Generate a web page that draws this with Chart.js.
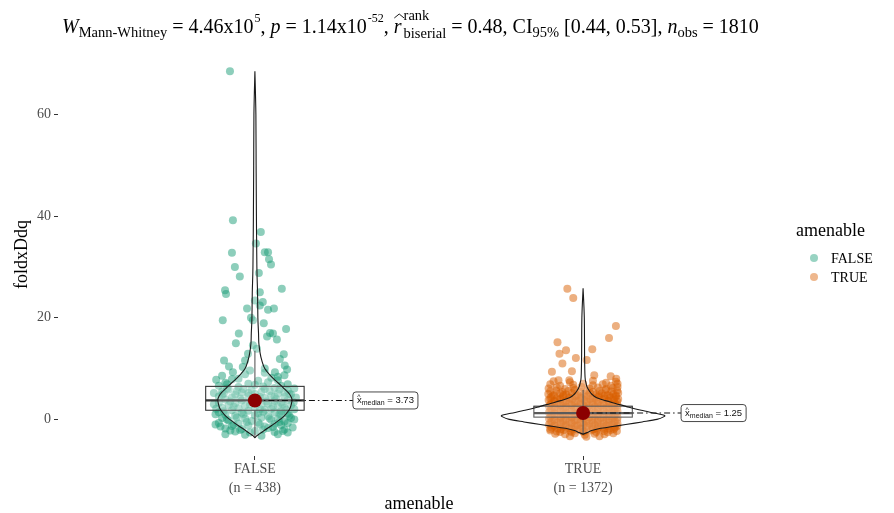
<!DOCTYPE html>
<html>
<head>
<meta charset="utf-8">
<script src="https://cdn.jsdelivr.net/npm/chart.js@4.4.0/dist/chart.umd.min.js"></script>
<style>
  html, body { margin: 0; padding: 0; background: #fff; }
  #wrap { width: 894px; height: 513px; }
</style>
</head>
<body>
<div id="wrap"><canvas id="chart" width="894" height="513"></canvas></div>
<script>
// groups on the x axis
const groups = ["FALSE", "TRUE"];
const groupN = [438, 1372];
const yTicks = [0, 20, 40, 60];

// box statistics
const medians = [3.73, 1.25];
const quartiles = [[1.8, 6.5], [0.45, 2.6]];
const whiskers = [[-3.5, 13.5], [-2.9, 5.8]];

// violin outline: [value, half width in group units]
const violinFalse = [[-3.6,0],[-3.2,0.006],[-2.8,0.015],[-2.3,0.026],[-1.8,0.037],[-1.2,0.051],[-0.6,0.064],[0.1,0.079],[0.8,0.091],[1.5,0.100],[2.2,0.107],[3.0,0.111],[3.9,0.113],[4.6,0.109],[5.3,0.101],[6.0,0.090],[6.7,0.079],[7.7,0.062],[8.7,0.046],[10,0.030],[11.6,0.021],[13,0.016],[15,0.012],[17,0.011],[20,0.009],[25,0.008],[30,0.006],[40,0.0046],[50,0.0037],[60,0.003],[68.5,0]];
const violinTrue = [[-2.9,0],[-2.6,0.012],[-2.2,0.026],[-1.8,0.05],[-1.4,0.09],[-1.0,0.13],[-0.5,0.18],[0.0,0.225],[0.5,0.245],[0.8,0.247],[1.2,0.22],[1.8,0.177],[2.4,0.14],[3.1,0.101],[3.7,0.068],[4.3,0.040],[5.0,0.026],[5.7,0.018],[6.4,0.012],[7.1,0.009],[8.3,0.006],[12,0.0046],[20,0.0037],[25.8,0]];

// jittered observations: [x offset from group centre, foldxDdq]
const falseJitter = [
  [-0.076,68.5],[-0.067,39.2],[0.018,36.9],[0.003,34.6],
  [-0.070,32.8],[0.030,32.9],[0.040,32.9],[0.043,31.5],[0.049,30.5],[-0.061,30.0],[0.012,28.8],[-0.046,28.1],
  [-0.091,25.4],[-0.088,24.7],[0.082,25.7],[0.015,25.0],[0.000,23.4],[0.024,23.1],[0.015,22.4],[-0.024,21.8],[0.040,21.6],[0.058,21.8],
  [-0.098,19.5],[-0.012,20.0],[-0.006,19.5],[0.027,18.9],[0.095,17.8],[-0.049,16.9],[0.046,17.0],[0.055,16.9],[0.037,16.3],[0.067,15.7],
  [-0.058,15.0],[-0.006,14.6],[0.006,13.9],[-0.021,12.9],[0.088,12.8],[-0.094,11.6],[0.076,11.9],[-0.079,10.4],[0.091,10.6],
  [-0.037,10.3],[-0.030,11.6],[0.098,9.8],[-0.067,9.3],[0.030,10.0],[0.061,9.3],
  [-0.10,8.6],[-0.03,8.9],[0.05,8.2],[0.09,8.7],[-0.07,7.9],[0.01,7.6],[0.07,7.7],[-0.09,7.2],[-0.02,7.0],[0.04,7.3],[0.10,6.9],
  [-0.11,6.6],[-0.05,6.4],[0.00,6.8],[0.06,6.2],[0.08,6.6],[-0.08,5.9],[-0.01,5.8],[0.03,6.0],[0.10,5.7],[-0.10,5.5],
  [-0.04,5.3],[0.02,5.4],[0.07,5.1],[-0.06,4.9],[0.00,5.0],[0.05,4.7],[0.11,4.9],[-0.11,4.5],[-0.07,4.3],[-0.02,4.6],[0.03,4.2],[0.09,4.4],
  [-0.09,3.9],[-0.04,3.7],[0.01,4.0],[0.06,3.6],[0.10,3.8],[-0.11,3.3],[-0.06,3.2],[-0.01,3.4],[0.04,3.1],[0.08,3.3],
  [-0.08,2.8],[-0.03,2.7],[0.02,2.9],[0.07,2.6],[0.11,2.8],[-0.10,2.3],[-0.05,2.2],[0.00,2.4],[0.05,2.1],[0.09,2.3],
  [-0.07,1.8],[-0.02,1.7],[0.03,1.9],[0.08,1.6],[-0.11,1.4],[-0.04,1.3],[0.01,1.2],[0.06,1.4],[0.10,1.1],
  [-0.09,0.9],[-0.06,0.7],[0.00,0.8],[0.04,0.6],[0.08,0.9],[-0.10,0.3],[-0.03,0.2],[0.02,0.4],[0.07,0.1],[0.11,0.3],
  [-0.08,-0.2],[-0.01,-0.3],[0.05,-0.1],[0.09,-0.4],[-0.11,-0.7],[-0.05,-0.8],[0.01,-0.6],[0.06,-0.9],[0.10,-0.7],
  [-0.07,-1.3],[-0.02,-1.2],[0.03,-1.4],[0.08,-1.1],[-0.09,-1.8],[-0.04,-1.9],[0.04,-1.7],[0.09,-2.0],
  [-0.06,-2.4],[0.00,-2.3],[0.06,-2.5],[-0.03,-3.0],[0.02,-3.2],[-0.09,-2.9],[0.10,-2.6],
  [-0.085,6.1],[-0.035,6.0],[0.025,6.5],[0.075,5.9],[-0.095,5.1],[-0.045,4.1],[0.015,4.4],[0.065,4.0],[-0.075,3.5],[-0.015,2.9],
  [0.035,3.5],[0.085,3.0],[-0.065,2.5],[0.015,2.0],[0.055,2.6],[0.095,1.9],[-0.095,1.6],[-0.035,1.0],[0.025,1.5],[0.075,1.0],
  [-0.055,0.4],[0.045,0.2],[0.105,0.7],[-0.085,0.0],[-0.025,-0.5],[0.075,-0.5],[-0.065,-1.0],[0.015,-1.0],[0.055,-1.5],[-0.105,-1.4],
  [-0.045,-2.1],[0.025,-2.0],[0.085,-2.3],[-0.015,-2.6],[-0.055,5.6],[0.045,5.6],[-0.02,5.2],[0.09,5.3],[-0.1,4.8],[0.06,4.5],
  [-0.125,3.0],[-0.12,1.0],[-0.125,5.2],[0.12,2.0],[0.125,4.3],[0.12,0.0],[-0.12,-1.0],[0.12,6.1],[-0.118,7.8],[0.115,-1.6],
  [-0.05,8.0],[0.03,9.2],[-0.015,9.6],[0.07,8.4],[-0.085,6.9],[0.105,5.0],[-0.118,2.1],[0.118,3.4],[-0.075,-2.2],[0.07,-2.9]
];

const trueJitter = [
  [-0.048,25.7],[-0.030,23.9],[0.100,18.4],[0.079,16.0],[-0.078,15.2],[-0.052,13.6],[-0.072,12.9],[0.028,13.8],[-0.022,12.1],
  [0.011,11.7],[-0.063,11.0],[-0.095,9.4],[-0.034,9.5],[0.034,8.7],[0.084,8.5],[0.101,8.0],[-0.042,7.7],[-0.075,7.7],
  [-0.09,7.5],[-0.04,7.3],[0.03,7.6],[0.07,7.2],[0.10,7.4],
  [-0.1,6.9],[-0.07,6.6],[-0.03,6.8],[0.0,7.0],[0.03,6.7],[0.06,6.9],[0.085,6.6],[0.105,7.0],
  [-0.105,6.1],[-0.08,6.3],[-0.055,6.0],[-0.03,6.2],[-0.005,6.4],[0.02,6.1],[0.045,6.3],[0.07,6.0],[0.09,6.2],[0.105,6.4],
  [-0.1,5.5],[-0.082,5.7],[-0.063,5.4],[-0.045,5.6],[-0.025,5.8],[-0.008,5.5],[0.012,5.7],[0.03,5.4],[0.05,5.6],[0.068,5.8],[0.086,5.5],[0.104,5.7],
  [-0.106,5.0],[-0.088,4.8],[-0.07,5.1],[-0.052,4.9],[-0.034,5.2],[-0.016,4.8],[0.003,5.0],[0.021,5.2],[0.039,4.9],[0.057,5.1],[0.075,4.8],[0.092,5.0],[0.107,5.2],
  [-0.097,4.4],[-0.079,4.2],[-0.061,4.5],[-0.043,4.3],[-0.025,4.6],[-0.007,4.3],[0.011,4.5],[0.029,4.2],[0.047,4.4],[0.065,4.6],[0.083,4.3],[0.1,4.5],
  [-0.105,3.8],[-0.087,3.6],[-0.069,3.9],[-0.051,3.7],[-0.033,4.0],[-0.015,3.6],[0.004,3.8],[0.022,4.0],[0.04,3.7],[0.058,3.9],[0.076,3.6],[0.093,3.8],[0.107,4.0],
  [-0.096,3.2],[-0.078,3.0],[-0.060,3.3],[-0.043,3.1],[-0.026,3.4],[-0.008,3.0],[0.010,3.2],[0.028,3.4],[0.045,3.1],[0.062,3.3],[0.080,3.0],[0.097,3.2],
  [-0.104,2.6],[-0.087,2.4],[-0.068,2.7],[-0.052,2.5],[-0.035,2.8],[-0.017,2.4],[0.002,2.6],[0.019,2.8],[0.036,2.5],[0.054,2.7],[0.071,2.4],[0.088,2.6],[0.105,2.8],
  [-0.096,2.0],[-0.078,1.8],[-0.060,2.1],[-0.043,1.9],[-0.026,2.2],[-0.008,1.8],[0.010,2.0],[0.028,2.2],[0.045,1.9],[0.062,2.1],[0.080,1.8],[0.097,2.0],
  [-0.104,1.4],[-0.087,1.2],[-0.068,1.5],[-0.052,1.3],[-0.035,1.6],[-0.017,1.2],[0.002,1.4],[0.019,1.6],[0.036,1.3],[0.054,1.5],[0.071,1.2],[0.088,1.4],[0.105,1.6],
  [-0.096,0.8],[-0.078,0.6],[-0.060,0.9],[-0.043,0.7],[-0.026,1.0],[-0.008,0.6],[0.010,0.8],[0.028,1.0],[0.045,0.7],[0.062,0.9],[0.080,0.6],[0.097,0.8],
  [-0.104,0.2],[-0.087,0.0],[-0.068,0.3],[-0.052,0.1],[-0.035,0.4],[-0.017,0.0],[0.002,0.2],[0.019,0.4],[0.036,0.1],[0.054,0.3],[0.071,0.0],[0.088,0.2],[0.105,0.4],
  [-0.096,-0.4],[-0.078,-0.6],[-0.060,-0.3],[-0.043,-0.5],[-0.026,-0.2],[-0.008,-0.6],[0.010,-0.4],[0.028,-0.2],[0.045,-0.5],[0.062,-0.3],[0.080,-0.6],[0.097,-0.4],
  [-0.104,-1.0],[-0.087,-1.2],[-0.068,-0.9],[-0.052,-1.1],[-0.035,-0.8],[-0.017,-1.2],[0.002,-1.0],[0.019,-0.8],[0.036,-1.1],[0.054,-0.9],[0.071,-1.2],[0.088,-1.0],[0.105,-0.8],
  [-0.096,-1.6],[-0.078,-1.8],[-0.060,-1.5],[-0.043,-1.7],[-0.026,-1.4],[-0.008,-1.8],[0.010,-1.6],[0.028,-1.4],[0.045,-1.7],[0.062,-1.5],[0.080,-1.8],[0.097,-1.6],
  [-0.100,-2.2],[-0.080,-2.4],[-0.058,-2.1],[-0.038,-2.3],[-0.018,-2.0],[0.003,-2.4],[0.024,-2.2],[0.044,-2.0],[0.064,-2.3],[0.084,-2.1],[0.103,-2.3],
  [-0.085,-2.8],[-0.055,-2.9],[-0.025,-2.7],[0.005,-3.0],[0.035,-2.8],[0.065,-2.9],[0.092,-2.7],
  [-0.04,-3.3],[0.01,-3.4],[0.05,-3.3],
  [-0.092,4.7],[-0.06,4.75],[-0.02,4.65],[0.015,4.7],[0.05,4.75],[0.08,4.65],[0.1,4.7],
  [-0.1,4.1],[-0.07,4.05],[-0.04,4.15],[-0.005,4.1],[0.035,4.05],[0.065,4.15],[0.095,4.1],
  [-0.088,3.5],[-0.055,3.45],[-0.022,3.55],[0.012,3.5],[0.045,3.45],[0.078,3.55],[0.104,3.5],
  [-0.1,2.9],[-0.068,2.95],[-0.035,2.85],[-0.002,2.9],[0.03,2.95],[0.063,2.85],[0.094,2.9],
  [-0.088,2.3],[-0.055,2.25],[-0.022,2.35],[0.012,2.3],[0.045,2.25],[0.078,2.35],[0.104,2.3],
  [-0.1,1.7],[-0.068,1.75],[-0.035,1.65],[-0.002,1.7],[0.03,1.75],[0.063,1.65],[0.094,1.7],
  [-0.088,1.1],[-0.055,1.05],[-0.022,1.15],[0.012,1.1],[0.045,1.05],[0.078,1.15],[0.104,1.1],
  [-0.1,0.5],[-0.068,0.55],[-0.035,0.45],[-0.002,0.5],[0.03,0.55],[0.063,0.45],[0.094,0.5],
  [-0.088,-0.1],[-0.055,-0.15],[-0.022,-0.05],[0.012,-0.1],[0.045,-0.15],[0.078,-0.05],[0.104,-0.1],
  [-0.1,-0.7],[-0.068,-0.65],[-0.035,-0.75],[-0.002,-0.7],[0.03,-0.65],[0.063,-0.75],[0.094,-0.7],
  [-0.088,-1.3],[-0.055,-1.35],[-0.022,-1.25],[0.012,-1.3],[0.045,-1.35],[0.078,-1.25],[0.104,-1.3],
  [-0.1,-1.9],[-0.068,-1.95],[-0.035,-1.85],[-0.002,-1.9],[0.03,-1.95],[0.063,-1.85],[0.094,-1.9],
  [-0.07,-2.5],[-0.035,-2.55],[0.0,-2.45],[0.04,-2.5],[0.075,-2.55]
];

const pointColors = ["rgba(27,158,119,0.5)", "rgba(217,95,2,0.5)"];
const legendColors = ["rgba(27,158,119,0.45)", "rgba(217,95,2,0.45)"];
const serif = "'Liberation Serif', 'DejaVu Serif', serif";
const sans = "'Liberation Sans', Arial, sans-serif";
const BOX_HALF = 0.15;
const LABEL_GAP = 98;

// catmull-rom through every point so the thin tips keep their full length
function splineTo(ctx, pts) {
    for (let i = 0; i < pts.length - 1; i++) {
        const p0 = pts[i - 1] || pts[i], p1 = pts[i], p2 = pts[i + 1], p3 = pts[i + 2] || p2;
        ctx.bezierCurveTo(
            p1[0] + (p2[0] - p0[0]) / 6, p1[1] + (p2[1] - p0[1]) / 6,
            p2[0] - (p3[0] - p1[0]) / 6, p2[1] - (p3[1] - p1[1]) / 6,
            p2[0], p2[1]);
    }
}

function drawViolin(ctx, xs, ys, centre, profile) {
    const left = profile.map(([v, w]) => [xs.getPixelForValue(centre - w), ys.getPixelForValue(v)]);
    const right = profile.map(([v, w]) => [xs.getPixelForValue(centre + w), ys.getPixelForValue(v)]).reverse();
    ctx.beginPath();
    ctx.moveTo(left[0][0], left[0][1]);
    splineTo(ctx, left);
    splineTo(ctx, right);
    ctx.closePath();
    ctx.fillStyle = "rgba(255,255,255,0.2)";
    ctx.fill();
    ctx.strokeStyle = "#1a1a1a";
    ctx.lineWidth = 1.1;
    ctx.stroke();
}

function drawBox(ctx, xs, ys, i) {
    const c = i + 1;
    const x0 = xs.getPixelForValue(c - BOX_HALF), x1 = xs.getPixelForValue(c + BOX_HALF);
    const xc = xs.getPixelForValue(c);
    const q1 = ys.getPixelForValue(quartiles[i][0]), q3 = ys.getPixelForValue(quartiles[i][1]);
    const lo = ys.getPixelForValue(whiskers[i][0]), hi = ys.getPixelForValue(whiskers[i][1]);
    const med = ys.getPixelForValue(medians[i]);
    ctx.fillStyle = "rgba(255,255,255,0.2)";
    ctx.fillRect(x0, q3, x1 - x0, q1 - q3);
    ctx.strokeStyle = "#333";
    ctx.lineWidth = 1.1;
    ctx.strokeRect(x0, q3, x1 - x0, q1 - q3);
    ctx.beginPath();
    ctx.moveTo(xc, q3); ctx.lineTo(xc, hi);
    ctx.moveTo(xc, q1); ctx.lineTo(xc, lo);
    ctx.stroke();
    ctx.lineWidth = 2.2;
    ctx.beginPath();
    ctx.moveTo(x0, med); ctx.lineTo(x1, med);
    ctx.stroke();
}

function drawMedianLabel(ctx, xs, ys, i) {
    const xc = xs.getPixelForValue(i + 1);
    const yc = ys.getPixelForValue(medians[i]);
    const lx = xc + LABEL_GAP;
    ctx.save();
    ctx.setLineDash([6, 3, 1.5, 3]);
    ctx.strokeStyle = "#111";
    ctx.lineWidth = 1.1;
    ctx.beginPath();
    ctx.moveTo(xc, yc); ctx.lineTo(lx, yc);
    ctx.stroke();
    ctx.restore();

    ctx.fillStyle = "#8B0000";
    ctx.beginPath();
    ctx.arc(xc, yc, 7, 0, Math.PI * 2);
    ctx.fill();

    const val = "= " + medians[i].toFixed(2);
    ctx.font = "9.5px " + sans;
    const xw = ctx.measureText("x").width;
    const vw = ctx.measureText(" " + val).width;
    ctx.font = "7px " + sans;
    const sw = ctx.measureText("median").width;
    const w = 4 + xw + sw + vw + 4;
    const h = 17;
    ctx.fillStyle = "#fff";
    ctx.strokeStyle = "#333";
    ctx.lineWidth = 0.9;
    ctx.beginPath();
    ctx.roundRect(lx, yc - h / 2, w, h, 3);
    ctx.fill();
    ctx.stroke();
    ctx.fillStyle = "#111";
    ctx.textBaseline = "alphabetic";
    ctx.textAlign = "left";
    let x = lx + 4;
    ctx.font = "9.5px " + sans;
    ctx.fillText("x", x, yc + 3);
    ctx.font = "7px " + sans;
    ctx.fillText("^", x + 0.3, yc - 1);
    x += xw;
    ctx.fillText("median", x, yc + 5);
    x += sw;
    ctx.font = "9.5px " + sans;
    ctx.fillText(" " + val, x, yc + 3);
}

// subtitle pieces: [text, kind]
const titleParts = [
    ["W", "it"], ["Mann-Whitney", "sub"], [" = 4.46x10", "n"], ["5", "sup"], [", ", "n"],
    ["p", "it"], [" = 1.14x10", "n"], ["-52", "sup"], [", ", "n"],
    ["r", "hat"], [["rank", "biserial"], "supsub"], [" = 0.48, CI", "n"], ["95%", "sub"],
    [" [0.44, 0.53], ", "n"], ["n", "it"], ["obs", "sub"], [" = 1810", "n"]
];

function drawTitle(ctx) {
    const base = 33;
    let x = 62;
    ctx.fillStyle = "#000";
    ctx.textAlign = "left";
    ctx.textBaseline = "alphabetic";
    for (const [t, kind] of titleParts) {
        if (kind === "n" || kind === "it" || kind === "hat") {
            ctx.font = (kind === "n" ? "" : "italic ") + "20px " + serif;
            ctx.fillText(t, x, base);
            const w = ctx.measureText(t).width;
            if (kind === "hat") {
                ctx.strokeStyle = "#000";
                ctx.lineWidth = 0.9;
                ctx.beginPath();
                ctx.moveTo(x + 0.5, base - 15);
                ctx.lineTo(x + w / 2 + 1.5, base - 19);
                ctx.lineTo(x + w + 2.5, base - 15);
                ctx.stroke();
            }
            x += w;
        } else if (kind === "sub") {
            ctx.font = "14.5px " + serif;
            ctx.fillText(t, x, base + 4);
            x += ctx.measureText(t).width;
        } else if (kind === "sup") {
            ctx.font = "12px " + serif;
            ctx.fillText(t, x + 1, base - 11);
            x += ctx.measureText(t).width + 1;
        } else if (kind === "supsub") {
            ctx.font = "14.5px " + serif;
            ctx.fillText(t[0], x + 2, base - 13);
            ctx.fillText(t[1], x + 2, base + 5);
            x += Math.max(ctx.measureText(t[0]).width, ctx.measureText(t[1]).width) + 2;
        }
    }
}

function drawLegend(ctx) {
    ctx.fillStyle = "#000";
    ctx.textAlign = "left";
    ctx.textBaseline = "middle";
    ctx.font = "18px " + serif;
    ctx.fillText("amenable", 796, 231);
    ctx.font = "14px " + serif;
    groups.forEach((g, i) => {
        const y = 258 + i * 19;
        ctx.fillStyle = legendColors[i];
        ctx.beginPath();
        ctx.arc(814, y, 4, 0, Math.PI * 2);
        ctx.fill();
        ctx.fillStyle = "#000";
        ctx.fillText(g, 831, y + 1);
    });
}

const betweenPlugin = {
    id: "betweenstats",
    afterDatasetsDraw(chart) {
        const ctx = chart.ctx;
        const xs = chart.scales.x, ys = chart.scales.y;
        ctx.save();
        drawBox(ctx, xs, ys, 0);
        drawViolin(ctx, xs, ys, 1, violinFalse);
        drawBox(ctx, xs, ys, 1);
        drawViolin(ctx, xs, ys, 2, violinTrue);
        drawMedianLabel(ctx, xs, ys, 0);
        drawMedianLabel(ctx, xs, ys, 1);
        ctx.restore();
    },
    afterDraw(chart) {
        const ctx = chart.ctx;
        ctx.save();
        drawTitle(ctx);
        drawLegend(ctx);
        ctx.restore();
    }
};

const ctx = document.getElementById("chart").getContext("2d");
new Chart(ctx, {
    type: "scatter",
    data: {
        datasets: [
            { label: "FALSE", data: falseJitter.map(([dx, y]) => ({ x: 1 + dx, y })), backgroundColor: pointColors[0], borderWidth: 0, pointRadius: 4 },
            { label: "TRUE", data: trueJitter.map(([dx, y]) => ({ x: 2 + dx, y })), backgroundColor: pointColors[1], borderWidth: 0, pointRadius: 4 }
        ]
    },
    options: {
        responsive: false,
        animation: false,
        layout: { padding: { top: 53, right: 114, bottom: 0, left: 0 } },
        plugins: { legend: { display: false }, tooltip: { enabled: false } },
        scales: {
            x: {
                type: "linear", min: 0.4, max: 2.6,
                afterBuildTicks: s => { s.ticks = [1, 2].map(v => ({ value: v })); },
                afterFit: s => { s.height = 57; },
                grid: { display: true, drawOnChartArea: false, drawTicks: true, tickLength: 4, color: "#333" },
                border: { display: false },
                ticks: {
                    callback: v => [groups[v - 1], "(n = " + groupN[v - 1] + ")"],
                    color: "#4D4D4D", font: { family: serif, size: 14, lineHeight: 1.36 }, padding: 0, maxRotation: 0
                },
                title: { display: true, text: "amenable", color: "#000", font: { family: serif, size: 18, lineHeight: 1 }, padding: { top: 0, bottom: 0 } }
            },
            y: {
                min: -7.2, max: 72.1,
                afterBuildTicks: s => { s.ticks = yTicks.map(v => ({ value: v })); },
                afterFit: s => { s.width = 58; },
                grid: { display: true, drawOnChartArea: false, drawTicks: true, tickLength: 4, color: "#333" },
                border: { display: false },
                ticks: { color: "#4D4D4D", font: { family: serif, size: 14 }, padding: 3 },
                title: { display: true, text: "foldxDdq", color: "#000", font: { family: serif, size: 18, lineHeight: 1.2 }, padding: { top: 11, bottom: 0 } }
            }
        }
    },
    plugins: [betweenPlugin]
});
</script>
</body>
</html>
